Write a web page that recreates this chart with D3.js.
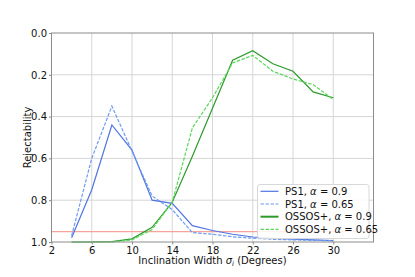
<!DOCTYPE html>
<html>
<head>
<meta charset="utf-8">
<script src="https://cdn.jsdelivr.net/npm/d3@7"></script>
<style>
  body { margin: 0; background: #fff; }
  text { font-family: "DejaVu Sans", sans-serif; }
</style>
</head>
<body>
<svg width="415" height="277"></svg>
<script>
var inclination = [4, 6, 8, 10, 12, 14, 16, 18, 20, 22, 24, 26, 28, 30];
var ps1_09   = [0.98, 0.75, 0.44, 0.56, 0.80, 0.815, 0.922, 0.945, 0.963, 0.976, 0.982, 0.986, 0.99, 0.993];
var ps1_065  = [0.97, 0.60, 0.35, 0.565, 0.78, 0.845, 0.955, 0.963, 0.975, 0.982, 0.987, 0.99, 0.992, 0.994];
var ossos_09  = [1.0, 1.0, 0.998, 0.985, 0.93, 0.81, 0.59, 0.36, 0.13, 0.085, 0.147, 0.183, 0.282, 0.31];
var ossos_065 = [1.0, 1.0, 1.0, 0.99, 0.94, 0.81, 0.454, 0.31, 0.143, 0.107, 0.183, 0.22, 0.247, 0.318];
var threshold = 0.95;
var xTicks = [2, 6, 10, 14, 18, 22, 26, 30];
var yTicks = [0.0, 0.2, 0.4, 0.6, 0.8, 1.0];

var series = [
  {name: "PS1", alpha: "0.9",  values: ps1_09,   color: "#4f74e3", dash: null},
  {name: "PS1", alpha: "0.65", values: ps1_065,  color: "#6f9af0", dash: "3.5,1.5"},
  {name: "OSSOS+", alpha: "0.9",  values: ossos_09,  color: "#2b9a2b", dash: null},
  {name: "OSSOS+", alpha: "0.65", values: ossos_065, color: "#5ad65a", dash: "3.5,1.5"}
];

var margin = {left: 51.5, right: 41.5, top: 33, bottom: 35};
var width = 415 - margin.left - margin.right;
var height = 277 - margin.top - margin.bottom;

var x = d3.scaleLinear().domain([2, 34]).range([0, width]);
var y = d3.scaleLinear().domain([0, 1]).range([0, height]);

var svg = d3.select("svg");
var g = svg.append("g").attr("transform", "translate(" + margin.left + "," + margin.top + ")");

// grid
g.selectAll(".vgrid").data(xTicks.slice(1)).enter().append("line")
  .attr("x1", d => x(d)).attr("x2", d => x(d))
  .attr("y1", 0).attr("y2", height)
  .attr("stroke", "#d6d6d6").attr("stroke-width", 1);
g.selectAll(".hgrid").data(yTicks.slice(1, -1)).enter().append("line")
  .attr("y1", d => y(d)).attr("y2", d => y(d))
  .attr("x1", 0).attr("x2", width)
  .attr("stroke", "#d6d6d6").attr("stroke-width", 1);

// threshold line
g.append("line")
  .attr("x1", 0).attr("x2", width)
  .attr("y1", y(threshold)).attr("y2", y(threshold))
  .attr("stroke", "#f5a49c").attr("stroke-width", 1.3);

var line = d3.line()
  .x((d, i) => x(inclination[i]))
  .y(d => y(d));

series.forEach(function(s) {
  g.append("path")
    .datum(s.values)
    .attr("d", line)
    .attr("fill", "none")
    .attr("stroke", s.color)
    .attr("stroke-width", 1.2)
    .attr("stroke-dasharray", s.dash);
});

// axes
var xAxis = g.append("g").attr("transform", "translate(0," + height + ")")
  .call(d3.axisBottom(x).tickValues(xTicks).tickFormat(d3.format("d")).tickSize(2.5).tickPadding(2));
var yAxis = g.append("g")
  .call(d3.axisLeft(y).tickValues(yTicks).tickFormat(d3.format(".1f")).tickSize(2.5).tickPadding(2));
[xAxis, yAxis].forEach(function(a) {
  a.select(".domain").remove();
  a.selectAll("line").attr("stroke", "#888");
  a.selectAll("text").attr("font-size", 10).attr("fill", "#111")
    .style("font-family", "DejaVu Sans, sans-serif");
});

// frame
g.append("rect").attr("width", width).attr("height", height)
  .attr("fill", "none").attr("stroke", "#8c8c8c").attr("stroke-width", 1);

// axis labels
var xl = svg.append("text")
  .attr("x", margin.left + width / 2).attr("y", 264)
  .attr("text-anchor", "middle").attr("font-size", 10).attr("fill", "#111");
xl.append("tspan").text("Inclination Width ");
xl.append("tspan").attr("font-style", "italic").text("σ");
xl.append("tspan").attr("font-style", "italic").attr("font-size", 7).attr("dy", 2).text("i");
xl.append("tspan").attr("dy", -2).text(" (Degrees)");

svg.append("text")
  .attr("transform", "translate(31," + (margin.top + height / 2) + ") rotate(-90)")
  .attr("text-anchor", "middle").attr("font-size", 10).attr("fill", "#111")
  .text("Rejectability");

// legend
var lg = svg.append("g").attr("transform", "translate(257.5,184.5)");
lg.append("rect").attr("width", 111.5).attr("height", 54).attr("rx", 2.5)
  .attr("fill", "#fff").attr("fill-opacity", 0.85)
  .attr("stroke", "#d8d8d8").attr("stroke-width", 1);
series.forEach(function(s, i) {
  var cy = 6.8 + i * 12.7;
  lg.append("line").attr("x1", 3).attr("x2", 21).attr("y1", cy).attr("y2", cy)
    .attr("stroke", s.color).attr("stroke-width", i == 2 ? 2 : 1.2)
    .attr("stroke-dasharray", s.dash);
  var t = lg.append("text").attr("x", 27.5).attr("y", cy + 3.6)
    .attr("font-size", 10).attr("fill", "#111");
  t.append("tspan").text(s.name + ", ");
  t.append("tspan").attr("font-style", "italic").text("α");
  t.append("tspan").text(" = " + s.alpha);
});
</script>
</body>
</html>
